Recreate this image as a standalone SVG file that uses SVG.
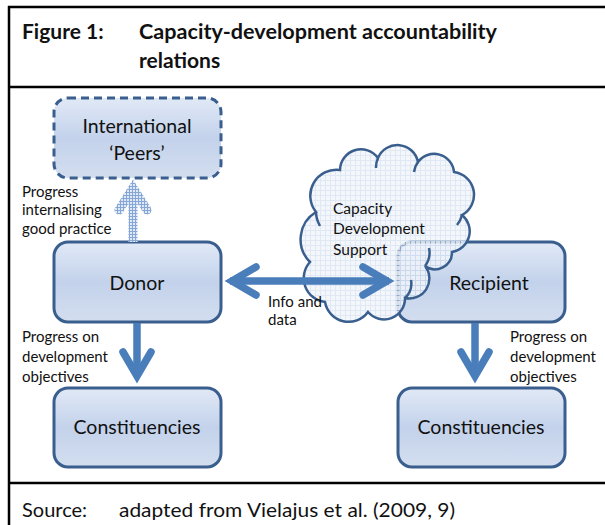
<svg xmlns="http://www.w3.org/2000/svg" width="605" height="525" viewBox="0 0 605 525">
<style>
.frame{stroke:#000;stroke-width:2.5;fill:none}
.box{fill:url(#boxGrad);stroke:#3a5f8e;stroke-width:3}
.dash{stroke-dasharray:8,5}
.node{font-family:Lato,"Noto Sans",sans-serif;font-size:19.5px;fill:#111;text-anchor:middle}
.lbl{font-family:Lato,"Noto Sans",sans-serif;font-size:15px;fill:#111}
.cl{font-size:15.5px}
.title{font-family:Lato,"Noto Sans",sans-serif;font-size:21px;font-weight:bold;fill:#111}
.src{font-family:Lato,"Noto Sans",sans-serif;font-size:20px;fill:#111}
.arr{fill:none;stroke:#4a7ebb;stroke-width:7.5}
.head{stroke-linecap:round;stroke-linejoin:miter}
.cloudline{fill:none;stroke:#3a5f8e;stroke-width:2.5}
</style>
<defs>
<linearGradient id="boxGrad" x1="0" y1="0" x2="0" y2="1">
<stop offset="0" stop-color="#e1e9f6"/>
<stop offset="0.5" stop-color="#c3d2eb"/>
<stop offset="1" stop-color="#d3deef"/>
</linearGradient>
<pattern id="cloudPat" width="5" height="5" patternUnits="userSpaceOnUse">
<rect width="5" height="5" fill="#cbd8ed" fill-opacity="0.6"/>
<rect x="1" y="1" width="4" height="4" fill="#ffffff" fill-opacity="0.6"/>
</pattern>
<pattern id="hatch" width="3" height="3" patternUnits="userSpaceOnUse">
<rect width="3" height="3" fill="#86a7d6"/>
<rect x="1" y="1" width="2" height="2" fill="#dfe8f5"/>
</pattern>
</defs>

<g id="frame">
<line class="frame" x1="8" y1="7" x2="605" y2="7"/>
<line class="frame" x1="9" y1="6" x2="9" y2="525"/>
<line class="frame" x1="8" y1="87" x2="605" y2="87"/>
<line class="frame" x1="8" y1="483" x2="605" y2="483"/>
</g>

<g id="title">
<text class="title" x="22" y="39">Figure 1:</text>
<text class="title" x="139" y="39" textLength="358" lengthAdjust="spacingAndGlyphs">Capacity-development accountability</text>
<text class="title" x="139" y="68">relations</text>
</g>

<g id="peers">
<rect class="box dash" x="54" y="98" width="167" height="80" rx="14"/>
<text class="node" x="137" y="133">International</text>
<text class="node" x="137" y="160">‘Peers’</text>
</g>

<g id="donor">
<rect class="box" x="54" y="242" width="167" height="80" rx="14"/>
<text class="node" x="137" y="290" font-size="20.5">Donor</text>
</g>

<g id="recipient">
<rect class="box" x="398" y="242" width="167" height="80" rx="14"/>
<text class="node" x="489" y="290" font-size="20.5">Recipient</text>
</g>

<g id="cloud">
<path d="M325,302 A24,24 0 0 1 310,262 A32,32 0 0 1 316,212 A26,26 0 0 1 340,170 A21,21 0 0 1 378,158 A21,21 0 0 1 418,162 A20,20 0 0 1 454,172 A23,23 0 0 1 462,215 A21,21 0 0 1 452,252 A17,17 0 0 1 425,266 A20,20 0 0 1 405,298 A21,21 0 0 1 368,312 A24,24 0 0 1 325,302 Z" fill="url(#cloudPat)" stroke="#3a5f8e" stroke-width="2.5"/>
<path class="cloudline" d="M316,212 A30,30 0 0 0 320,226 M378,158 A22,22 0 0 0 376,168 M418,162 A20,20 0 0 0 414,172 M462,215 A24,24 0 0 1 457,225 M425,266 A22,22 0 0 0 429,248 M405,298 A20,20 0 0 0 411,280"/>
<text class="lbl cl" x="333" y="214">Capacity</text>
<text class="lbl cl" x="333" y="234">Development</text>
<text class="lbl cl" x="333" y="255">Support</text>
</g>

<g id="const-left">
<rect class="box" x="54" y="388" width="167" height="79" rx="14"/>
<text class="node" x="137" y="434">Constituencies</text>
</g>

<g id="const-right">
<rect class="box" x="398" y="388" width="167" height="79" rx="14"/>
<text class="node" x="481" y="434">Constituencies</text>
</g>

<g id="connectors">
<line x1="133" y1="242" x2="133" y2="190" stroke="url(#hatch)" stroke-width="9"/>
<path d="M119,210 L133,188 L147,210" fill="none" stroke="url(#hatch)" stroke-width="9" stroke-linecap="round" stroke-linejoin="miter"/>
<line class="arr" x1="230" y1="281" x2="389" y2="281"/>
<path class="arr head" d="M256,267 L232,281 L256,295"/>
<path class="arr head" d="M363,267 L387,281 L363,295"/>
<line class="arr" x1="137" y1="323" x2="137" y2="374"/>
<path class="arr head" d="M123,352 L137,376 L151,352"/>
<line class="arr" x1="475" y1="323" x2="475" y2="374"/>
<path class="arr head" d="M461,352 L475,376 L489,352"/>
</g>

<g id="labels">
<text class="lbl" x="22" y="197">Progress</text>
<text class="lbl" x="22" y="215">internalising</text>
<text class="lbl" x="22" y="234">good practice</text>
<text class="lbl" x="268" y="307">Info and</text>
<text class="lbl" x="268" y="325">data</text>
<text class="lbl" x="22" y="342">Progress on</text>
<text class="lbl" x="22" y="362">development</text>
<text class="lbl" x="22" y="382">objectives</text>
<text class="lbl" x="510" y="342">Progress on</text>
<text class="lbl" x="510" y="362">development</text>
<text class="lbl" x="510" y="382">objectives</text>
</g>

<g id="source">
<text class="src" x="22" y="517">Source:</text>
<text class="src" x="119" y="517" textLength="336" lengthAdjust="spacingAndGlyphs">adapted from Vielajus et al. (2009, 9)</text>
</g>
</svg>
